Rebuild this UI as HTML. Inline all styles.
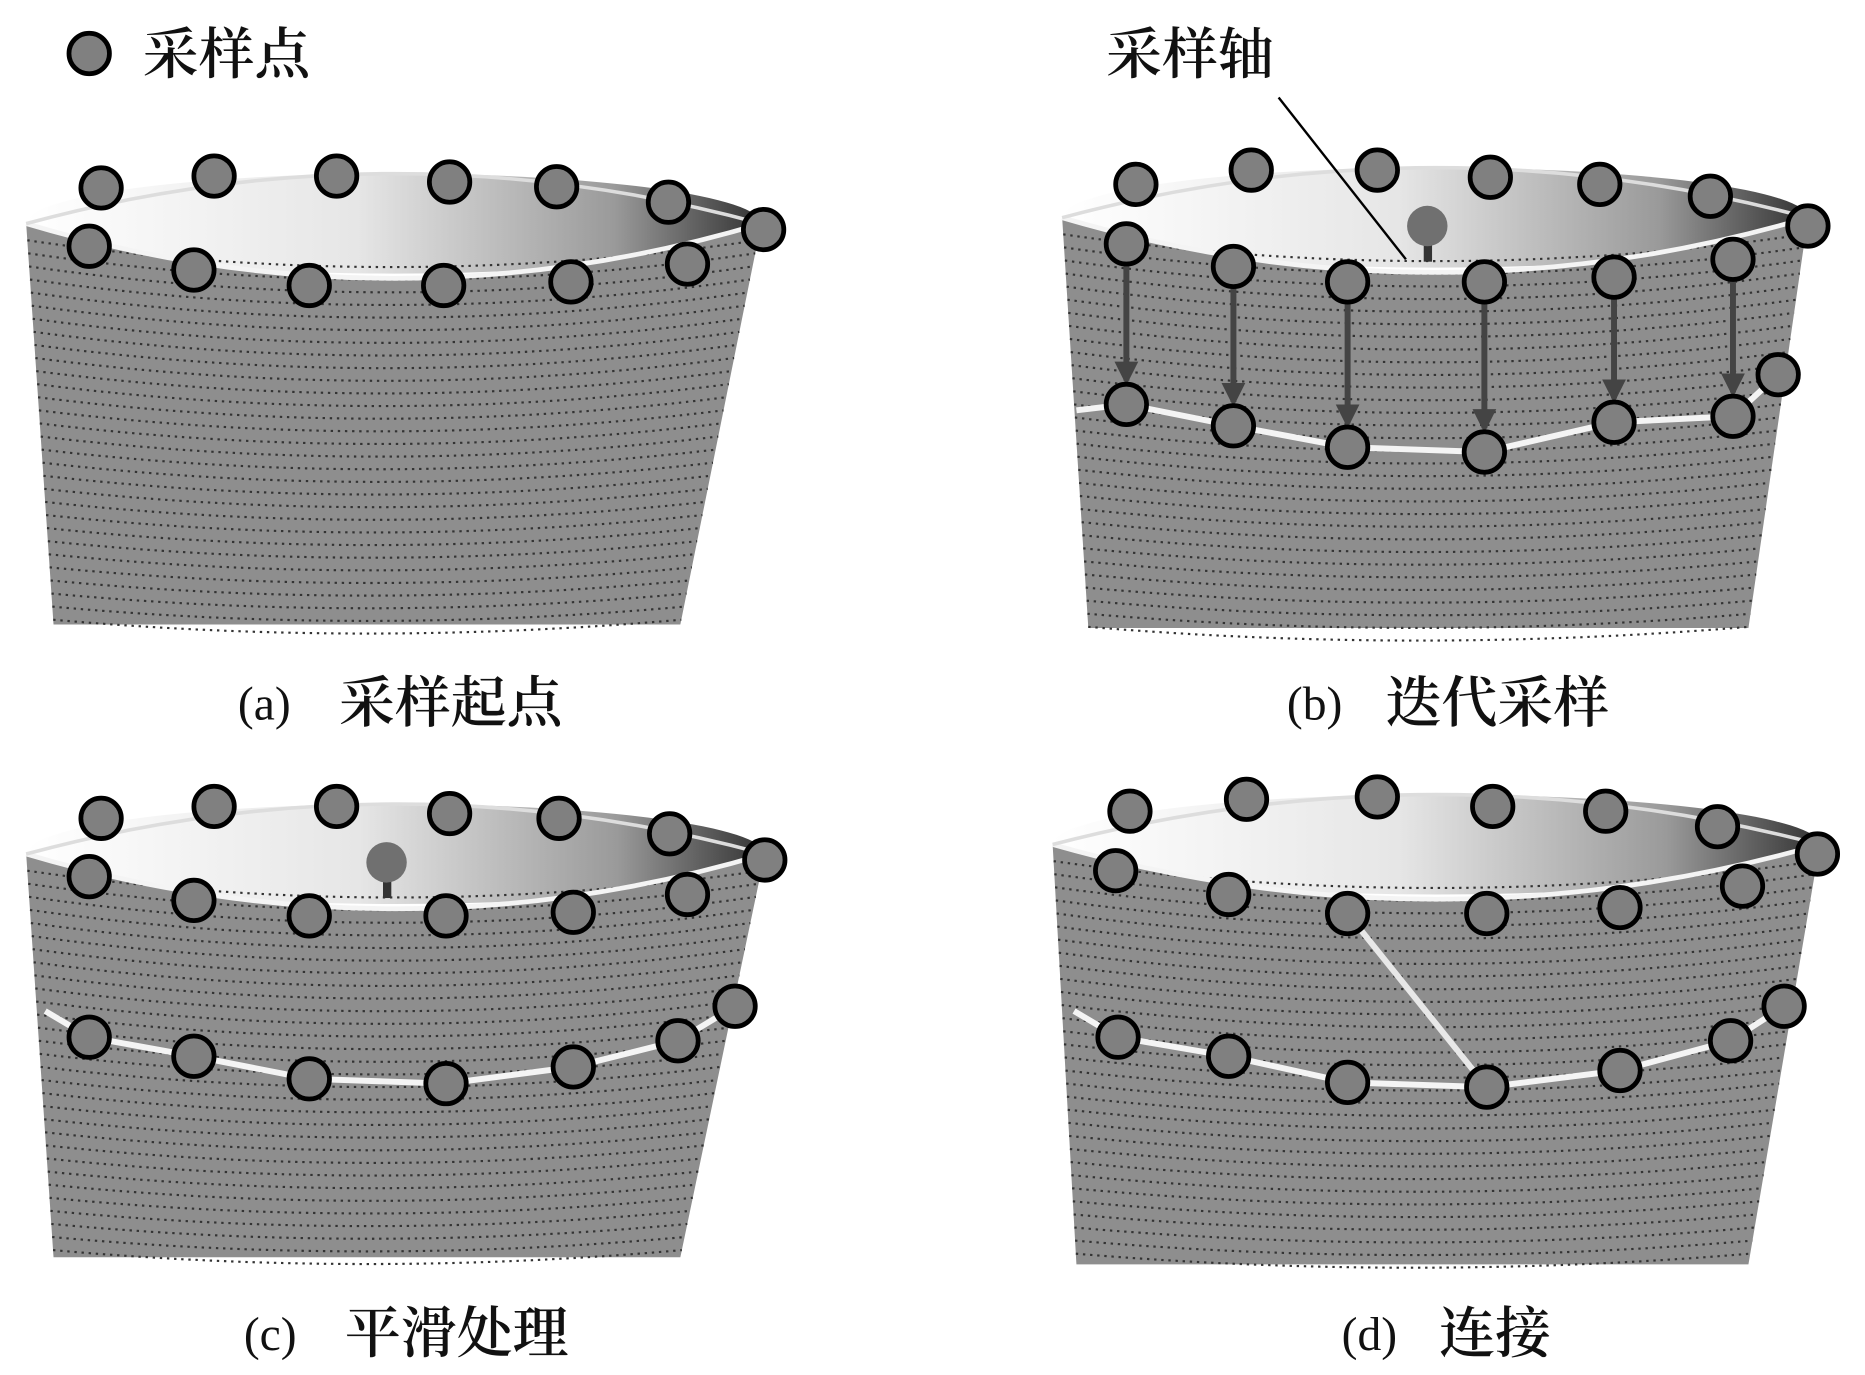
<!DOCTYPE html>
<html><head><meta charset="utf-8"><style>
html,body{margin:0;padding:0;background:#fff;}
svg{display:block;}
text{font-family:"Liberation Serif","Noto Serif CJK SC","Noto Sans CJK SC",serif;fill:#111;}
.c{font-size:47px;font-weight:600;}
.l{font-size:40px;}
</style></head><body>
<svg id="s" width="1865" height="1375" viewBox="0 0 1568 1156" preserveAspectRatio="none" xmlns="http://www.w3.org/2000/svg">
<defs>
<linearGradient id="ig" x1="0" x2="1" y1="0" y2="0">
<stop offset="0" stop-color="#ffffff"/><stop offset="0.45" stop-color="#e6e6e6"/><stop offset="0.8" stop-color="#9a9a9a"/><stop offset="1" stop-color="#333"/>
</linearGradient>
<marker id="ar" viewBox="0 0 10 10" refX="8" refY="5" markerWidth="4" markerHeight="4" orient="auto"><path d="M0,0 L10,5 L0,10 z" fill="#444"/></marker>
</defs>
<g id="cups"></g>
<g id="over"></g>
<circle cx="75" cy="45" r="17" fill="#808080" stroke="#000" stroke-width="4"/>
<text x="120" y="62" class="c">采样点</text>
<text x="930" y="62" class="c">采样轴</text>
<line x1="1075" y1="82" x2="1182" y2="218" stroke="#000" stroke-width="2"/>
<text x="200" y="605" class="l">(a)</text><text x="285" y="607" class="c">采样起点</text>
<text x="1082" y="605" class="l">(b)</text><text x="1165" y="607" class="c">迭代采样</text>
<text x="205" y="1135" class="l">(c)</text><text x="290" y="1137" class="c">平滑处理</text>
<text x="1128" y="1135" class="l">(d)</text><text x="1210" y="1137" class="c">连接</text>
</svg>
<script>
var NS="http://www.w3.org/2000/svg";
function el(p,t,a){var e=document.createElementNS(NS,t);for(var k in a)e.setAttribute(k,a[k]);p.appendChild(e);return e;}
var cups=document.getElementById('cups'),over=document.getElementById('over');
function cup(L,R,top,bl,br,bot){
 var cx=(L+R)/2,rx=(R-L)/2,cy=top+38,ry=42;
 el(cups,'ellipse',{cx:cx,cy:cy,rx:rx,ry:ry,fill:'url(#ig)'});
 var d='M'+L+','+cy+' Q'+cx+','+(cy+2*ry+8)+' '+R+','+cy+' L'+br+','+bot+' L'+bl+','+bot+' Z';
 el(cups,'path',{d:d,fill:'#8e8e8e'});
 for(var y=cy+14;y<bot;y+=11){
  var f=(y-cy)/(bot-cy),l=L+(bl-L)*f,r=R+(br-R)*f;
  var sag=(2*ry+8)*(1-f*0.5);
  el(cups,'path',{d:'M'+l+','+y+' Q'+((l+r)/2)+','+(y+sag/2)+' '+r+','+y,fill:'none',stroke:'#333','stroke-width':1.8,'stroke-dasharray':'2 4'});
 }
 el(cups,'path',{d:'M'+L+','+cy+' Q'+cx+','+(cy+2*ry+8)+' '+R+','+cy,fill:'none',stroke:'#f4f4f4','stroke-width':4});
 el(cups,'path',{d:'M'+L+','+cy+' Q'+cx+','+(cy-2*ry)+' '+R+','+cy,fill:'none',stroke:'#ddd','stroke-width':3});
}
cup(22,640,150,45,572,525);
cup(893,1520,145,915,1470,528);
cup(22,643,680,45,572,1057);
cup(885,1530,672,905,1470,1063);
function pl(pts,c,w){el(over,'polyline',{points:pts.map(function(p){return p.join(',')}).join(' '),fill:'none',stroke:c||'#f4f4f4','stroke-width':w||5});}
function pts(a){a.forEach(function(p){el(over,'circle',{cx:p[0],cy:p[1],r:17,fill:'#808080',stroke:'#000','stroke-width':4});});}
function pin(x,y){el(over,'rect',{x:x-3,y:y,width:7,height:30,fill:'#333'});el(over,'circle',{cx:x,cy:y,r:17,fill:'#707070'});}
var bf=[[947,205],[1037,224],[1133,237],[1248,237],[1357,233],[1457,218]];
var bl=[[947,340],[1037,358],[1133,376],[1248,380],[1357,355],[1457,350],[1495,315]];
pl([[905,345]].concat(bl));
pin(1200,190);
bf.forEach(function(p,i){el(over,'line',{x1:p[0],y1:p[1]+18,x2:bl[i][0],y2:bl[i][1]-20,stroke:'#444','stroke-width':5,'marker-end':'url(#ar)'});});
pts([[955,155],[1052,143],[1158,143],[1253,149],[1345,155],[1438,165],[1520,190]]);pts(bf);pts(bl);
pts([[85,158],[180,148],[283,148],[378,153],[468,157],[562,170],[642,193],[75,207],[163,227],[260,240],[373,240],[480,237],[578,222]]);
var cl=[[75,872],[163,888],[260,907],[375,911],[482,897],[570,875],[618,846]];
pl([[38,850]].concat(cl));
pin(325,725);
pts([[85,688],[180,678],[283,678],[378,684],[470,688],[563,701],[643,723],[75,737],[163,757],[260,770],[375,770],[482,767],[578,752]]);pts(cl);
var dl=[[940,872],[1033,888],[1133,910],[1250,914],[1362,900],[1455,875],[1500,846]];
pl([[903,850]].concat(dl));
pl([[1133,768],[1250,914]],'#e8e8e8',5);
pts([[950,682],[1048,672],[1158,670],[1255,678],[1350,682],[1444,695],[1528,718],[938,732],[1033,752],[1133,768],[1250,768],[1362,763],[1465,745]]);pts(dl);
</script>
</body></html>
